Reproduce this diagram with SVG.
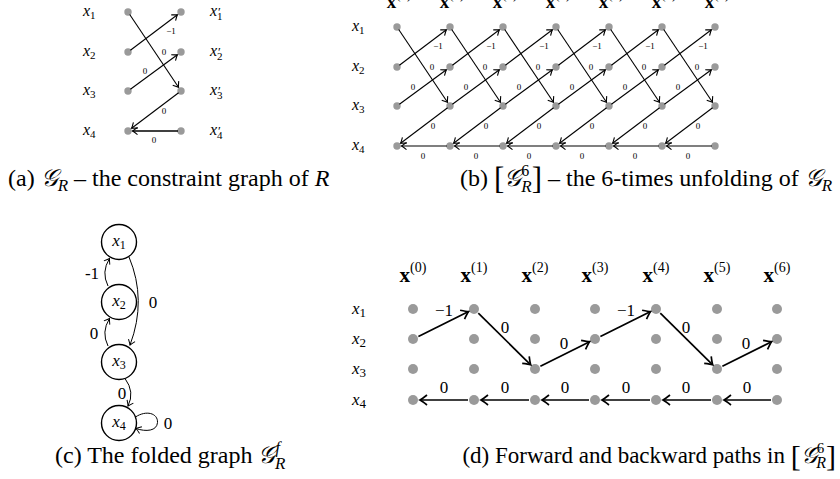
<svg xmlns="http://www.w3.org/2000/svg" width="840" height="479" viewBox="0 0 840 479">
<style>
text{font-family:"Liberation Serif","DejaVu Serif",serif;fill:#000}
.it{font-style:italic}
.up{font-style:normal}
.dot{fill:#9a9a9a}
.dd{fill:#9a9a9a}
.e{stroke:#000;stroke-width:1.1;fill:none;marker-end:url(#ah)}
.ed{stroke:#000;stroke-width:1.7;fill:none;marker-end:url(#ahd)}
.ec{stroke:#000;stroke-width:1;fill:none;marker-end:url(#ahc)}
.s{font-size:9px;text-anchor:middle}
.m{font-size:17px;text-anchor:middle}
.rl{font-size:16px;font-style:italic}
.rd{font-size:17px;font-style:italic}
.hd{text-anchor:middle}
.cap{font-size:24px}
.nc{fill:#fff;stroke:#000;stroke-width:1.4}
</style>
<defs>
<marker id="ah" viewBox="-8 -6 10 12" markerWidth="10" markerHeight="12" refX="0" refY="0" orient="auto" markerUnits="userSpaceOnUse"><path d="M-5,-3.6 Q-1.5,-0.8 0,0 Q-1.5,0.8 -5,3.6" fill="none" stroke="#000" stroke-width="1.1"/></marker>
<marker id="ahd" viewBox="-10 -7 12 14" markerWidth="12" markerHeight="14" refX="0" refY="0" orient="auto" markerUnits="userSpaceOnUse"><path d="M-7,-5 Q-2,-1 0,0 Q-2,1 -7,5" fill="none" stroke="#000" stroke-width="1.7"/></marker>
<marker id="ahc" viewBox="-8 -6 10 12" markerWidth="10" markerHeight="12" refX="0" refY="0" orient="auto" markerUnits="userSpaceOnUse"><path d="M-5,-3.5 Q-1.5,-0.8 0,0 Q-1.5,0.8 -5,3.5" fill="none" stroke="#000" stroke-width="1"/></marker>
</defs>

<!-- Panel (a) -->
<g id="panel-a">
<g id="a-labels" class="rl">
<text x="83" y="16">x<tspan class="up" font-size="11" dy="3">1</tspan></text>
<text x="83" y="56">x<tspan class="up" font-size="11" dy="3">2</tspan></text>
<text x="83" y="95">x<tspan class="up" font-size="11" dy="3">3</tspan></text>
<text x="83" y="135">x<tspan class="up" font-size="11" dy="3">4</tspan></text>
<text x="210" y="16">x<tspan class="up" font-size="13" dx="1">′</tspan><tspan class="up" font-size="11" dx="-4" dy="4">1</tspan></text>
<text x="210" y="56">x<tspan class="up" font-size="13" dx="1">′</tspan><tspan class="up" font-size="11" dx="-4" dy="4">2</tspan></text>
<text x="210" y="95">x<tspan class="up" font-size="13" dx="1">′</tspan><tspan class="up" font-size="11" dx="-4" dy="4">3</tspan></text>
<text x="210" y="135">x<tspan class="up" font-size="13" dx="1">′</tspan><tspan class="up" font-size="11" dx="-4" dy="4">4</tspan></text>
</g>
<g id="a-x1"><circle class="dot" cx="128" cy="12" r="3.7"/></g>
<g id="a-x2"><circle class="dot" cx="128" cy="52" r="3.7"/></g>
<g id="a-x3"><circle class="dot" cx="128" cy="91" r="3.7"/></g>
<g id="a-x4"><circle class="dot" cx="128" cy="131" r="3.7"/></g>
<g id="a-x1p"><circle class="dot" cx="181" cy="12" r="3.7"/></g>
<g id="a-x2p"><circle class="dot" cx="181" cy="52" r="3.7"/></g>
<g id="a-x3p"><circle class="dot" cx="181" cy="91" r="3.7"/></g>
<g id="a-x4p"><circle class="dot" cx="181" cy="131" r="3.7"/></g>
<g id="a-connectors">
<path class="e" d="M129.7,14.5 L178.5,87.3"/>
<path class="e" d="M130.4,50.2 L177.4,14.7"/>
<path class="e" d="M130.4,89.2 L177.4,54.7"/>
<path class="e" d="M178.6,92.8 L131.6,128.3"/>
<path class="e" d="M178,131 L132.5,131" style="stroke-width:1.4"/>
<text class="s" x="171" y="34">−1</text>
<text class="s" x="164" y="55">0</text>
<text class="s" x="145" y="74">0</text>
<text class="s" x="164" y="114">0</text>
<text class="s" x="154" y="143">0</text>
</g>
</g>

<!-- Panel (b) -->
<g id="panel-b">
<g id="b-headers" font-size="19">
<text class="hd" x="399" y="8"><tspan font-weight="bold">x</tspan><tspan font-size="13" dy="-9">(0)</tspan></text>
<text class="hd" x="452" y="8"><tspan font-weight="bold">x</tspan><tspan font-size="13" dy="-9">(1)</tspan></text>
<text class="hd" x="505" y="8"><tspan font-weight="bold">x</tspan><tspan font-size="13" dy="-9">(2)</tspan></text>
<text class="hd" x="558" y="8"><tspan font-weight="bold">x</tspan><tspan font-size="13" dy="-9">(3)</tspan></text>
<text class="hd" x="611" y="8"><tspan font-weight="bold">x</tspan><tspan font-size="13" dy="-9">(4)</tspan></text>
<text class="hd" x="664" y="8"><tspan font-weight="bold">x</tspan><tspan font-size="13" dy="-9">(5)</tspan></text>
<text class="hd" x="717" y="8"><tspan font-weight="bold">x</tspan><tspan font-size="13" dy="-9">(6)</tspan></text>
</g>
<g id="b-labels" class="rl">
<text x="352" y="31">x<tspan class="up" font-size="11" dy="3">1</tspan></text>
<text x="352" y="71">x<tspan class="up" font-size="11" dy="3">2</tspan></text>
<text x="352" y="110">x<tspan class="up" font-size="11" dy="3">3</tspan></text>
<text x="352" y="150">x<tspan class="up" font-size="11" dy="3">4</tspan></text>
</g>
<g id="b-x1-0"><circle class="dot" cx="397" cy="27" r="3.7"/></g>
<g id="b-x2-0"><circle class="dot" cx="397" cy="67" r="3.7"/></g>
<g id="b-x3-0"><circle class="dot" cx="397" cy="106" r="3.7"/></g>
<g id="b-x4-0"><circle class="dot" cx="397" cy="146" r="3.7"/></g>
<g id="b-x1-1"><circle class="dot" cx="450" cy="27" r="3.7"/></g>
<g id="b-x2-1"><circle class="dot" cx="450" cy="67" r="3.7"/></g>
<g id="b-x3-1"><circle class="dot" cx="450" cy="106" r="3.7"/></g>
<g id="b-x4-1"><circle class="dot" cx="450" cy="146" r="3.7"/></g>
<g id="b-x1-2"><circle class="dot" cx="503" cy="27" r="3.7"/></g>
<g id="b-x2-2"><circle class="dot" cx="503" cy="67" r="3.7"/></g>
<g id="b-x3-2"><circle class="dot" cx="503" cy="106" r="3.7"/></g>
<g id="b-x4-2"><circle class="dot" cx="503" cy="146" r="3.7"/></g>
<g id="b-x1-3"><circle class="dot" cx="556" cy="27" r="3.7"/></g>
<g id="b-x2-3"><circle class="dot" cx="556" cy="67" r="3.7"/></g>
<g id="b-x3-3"><circle class="dot" cx="556" cy="106" r="3.7"/></g>
<g id="b-x4-3"><circle class="dot" cx="556" cy="146" r="3.7"/></g>
<g id="b-x1-4"><circle class="dot" cx="609" cy="27" r="3.7"/></g>
<g id="b-x2-4"><circle class="dot" cx="609" cy="67" r="3.7"/></g>
<g id="b-x3-4"><circle class="dot" cx="609" cy="106" r="3.7"/></g>
<g id="b-x4-4"><circle class="dot" cx="609" cy="146" r="3.7"/></g>
<g id="b-x1-5"><circle class="dot" cx="662" cy="27" r="3.7"/></g>
<g id="b-x2-5"><circle class="dot" cx="662" cy="67" r="3.7"/></g>
<g id="b-x3-5"><circle class="dot" cx="662" cy="106" r="3.7"/></g>
<g id="b-x4-5"><circle class="dot" cx="662" cy="146" r="3.7"/></g>
<g id="b-x1-6"><circle class="dot" cx="715" cy="27" r="3.7"/></g>
<g id="b-x2-6"><circle class="dot" cx="715" cy="67" r="3.7"/></g>
<g id="b-x3-6"><circle class="dot" cx="715" cy="106" r="3.7"/></g>
<g id="b-x4-6"><circle class="dot" cx="715" cy="146" r="3.7"/></g>
<g id="b-connectors">
<g id="b-step0">
<path class="e" d="M398.7,29.5 L447.5,102.3"/>
<path class="e" d="M399.4,65.2 L446.4,29.7"/>
<path class="e" d="M399.4,104.2 L446.4,69.7"/>
<path class="e" d="M447.6,107.8 L400.6,143.3"/>
<path class="e" d="M447,146 L401.5,146"/>
<text class="s" x="438" y="49">−1</text>
<text class="s" x="432" y="70">0</text>
<text class="s" x="413" y="90">0</text>
<text class="s" x="433" y="129">0</text>
<text class="s" x="423" y="159">0</text>
</g>
<use href="#b-step0" transform="translate(53,0)"/>
<use href="#b-step0" transform="translate(106,0)"/>
<use href="#b-step0" transform="translate(159,0)"/>
<use href="#b-step0" transform="translate(212,0)"/>
<use href="#b-step0" transform="translate(265,0)"/>
</g>
</g>

<!-- Panel (c) -->
<g id="panel-c">
<g id="c-connectors">
<path class="ec" d="M108,286 Q101,272 109.5,258.5"/>
<path class="ec" d="M108,346 Q101,332 109.5,318.5"/>
<path class="ec" d="M129,257 Q147,300 130,345"/>
<path class="ec" d="M125,378.5 Q135,392 128,406"/>
<path class="ec" d="M135.5,417 C146,410 158,413 157.5,422.5 C157,431 146,432 136,428.5"/>
<text font-size="17" x="92" y="279" text-anchor="middle">-1</text>
<text font-size="17" x="94" y="339" text-anchor="middle">0</text>
<text font-size="17" x="153" y="308" text-anchor="middle">0</text>
<text font-size="17" x="122" y="399" text-anchor="middle">0</text>
<text font-size="17" x="168" y="429" text-anchor="middle">0</text>
</g>
<g id="c-x1"><circle class="nc" cx="119" cy="242" r="17.5"/><text class="it" font-size="17" x="119" y="246" text-anchor="middle">x<tspan class="up" font-size="12" dy="3">1</tspan></text></g>
<g id="c-x2"><circle class="nc" cx="119" cy="302" r="17.5"/><text class="it" font-size="17" x="119" y="306" text-anchor="middle">x<tspan class="up" font-size="12" dy="3">2</tspan></text></g>
<g id="c-x3"><circle class="nc" cx="119" cy="362" r="17.5"/><text class="it" font-size="17" x="119" y="366" text-anchor="middle">x<tspan class="up" font-size="12" dy="3">3</tspan></text></g>
<g id="c-x4"><circle class="nc" cx="119" cy="423" r="17.5"/><text class="it" font-size="17" x="119" y="427" text-anchor="middle">x<tspan class="up" font-size="12" dy="3">4</tspan></text></g>
</g>

<!-- Panel (d) -->
<g id="panel-d">
<g id="d-headers" font-size="21">
<text class="hd" x="413" y="282"><tspan font-weight="bold">x</tspan><tspan font-size="14" dy="-10">(0)</tspan></text>
<text class="hd" x="474" y="282"><tspan font-weight="bold">x</tspan><tspan font-size="14" dy="-10">(1)</tspan></text>
<text class="hd" x="535" y="282"><tspan font-weight="bold">x</tspan><tspan font-size="14" dy="-10">(2)</tspan></text>
<text class="hd" x="595" y="282"><tspan font-weight="bold">x</tspan><tspan font-size="14" dy="-10">(3)</tspan></text>
<text class="hd" x="656" y="282"><tspan font-weight="bold">x</tspan><tspan font-size="14" dy="-10">(4)</tspan></text>
<text class="hd" x="717" y="282"><tspan font-weight="bold">x</tspan><tspan font-size="14" dy="-10">(5)</tspan></text>
<text class="hd" x="777" y="282"><tspan font-weight="bold">x</tspan><tspan font-size="14" dy="-10">(6)</tspan></text>
</g>
<g id="d-labels" class="rd">
<text x="352" y="314">x<tspan class="up" font-size="13" dy="3">1</tspan></text>
<text x="352" y="344">x<tspan class="up" font-size="13" dy="3">2</tspan></text>
<text x="352" y="374">x<tspan class="up" font-size="13" dy="3">3</tspan></text>
<text x="352" y="405">x<tspan class="up" font-size="13" dy="3">4</tspan></text>
</g>
<g id="d-x1-0"><circle class="dd" cx="413" cy="309" r="5"/></g>
<g id="d-x2-0"><circle class="dd" cx="413" cy="339" r="5"/></g>
<g id="d-x3-0"><circle class="dd" cx="413" cy="369" r="5"/></g>
<g id="d-x4-0"><circle class="dd" cx="413" cy="400" r="5"/></g>
<g id="d-x1-1"><circle class="dd" cx="474" cy="309" r="5"/></g>
<g id="d-x2-1"><circle class="dd" cx="474" cy="339" r="5"/></g>
<g id="d-x3-1"><circle class="dd" cx="474" cy="369" r="5"/></g>
<g id="d-x4-1"><circle class="dd" cx="474" cy="400" r="5"/></g>
<g id="d-x1-2"><circle class="dd" cx="535" cy="309" r="5"/></g>
<g id="d-x2-2"><circle class="dd" cx="535" cy="339" r="5"/></g>
<g id="d-x3-2"><circle class="dd" cx="535" cy="369" r="5"/></g>
<g id="d-x4-2"><circle class="dd" cx="535" cy="400" r="5"/></g>
<g id="d-x1-3"><circle class="dd" cx="595" cy="309" r="5"/></g>
<g id="d-x2-3"><circle class="dd" cx="595" cy="339" r="5"/></g>
<g id="d-x3-3"><circle class="dd" cx="595" cy="369" r="5"/></g>
<g id="d-x4-3"><circle class="dd" cx="595" cy="400" r="5"/></g>
<g id="d-x1-4"><circle class="dd" cx="656" cy="309" r="5"/></g>
<g id="d-x2-4"><circle class="dd" cx="656" cy="339" r="5"/></g>
<g id="d-x3-4"><circle class="dd" cx="656" cy="369" r="5"/></g>
<g id="d-x4-4"><circle class="dd" cx="656" cy="400" r="5"/></g>
<g id="d-x1-5"><circle class="dd" cx="717" cy="309" r="5"/></g>
<g id="d-x2-5"><circle class="dd" cx="717" cy="339" r="5"/></g>
<g id="d-x3-5"><circle class="dd" cx="717" cy="369" r="5"/></g>
<g id="d-x4-5"><circle class="dd" cx="717" cy="400" r="5"/></g>
<g id="d-x1-6"><circle class="dd" cx="777" cy="309" r="5"/></g>
<g id="d-x2-6"><circle class="dd" cx="777" cy="339" r="5"/></g>
<g id="d-x3-6"><circle class="dd" cx="777" cy="369" r="5"/></g>
<g id="d-x4-6"><circle class="dd" cx="777" cy="400" r="5"/></g>
<g id="d-connectors">
<path class="ed" d="M418.4,336.4 L468.6,311.6"/>
<path class="ed" d="M478.3,313.2 L530.7,364.8"/>
<path class="ed" d="M540.4,366.3 L589.6,341.7"/>
<path class="ed" d="M600.4,336.4 L650.6,311.6"/>
<path class="ed" d="M660.3,313.2 L712.7,364.8"/>
<path class="ed" d="M722.4,366.3 L771.6,341.7"/>
<path class="ed" d="M468,400 L420,400"/>
<path class="ed" d="M529,400 L481,400"/>
<path class="ed" d="M589,400 L542,400"/>
<path class="ed" d="M650,400 L602,400"/>
<path class="ed" d="M711,400 L663,400"/>
<path class="ed" d="M771,400 L724,400"/>
<text class="m" x="444" y="316">−1</text>
<text class="m" x="626" y="316">−1</text>
<text class="m" x="505" y="333">0</text>
<text class="m" x="686" y="333">0</text>
<text class="m" x="564" y="349">0</text>
<text class="m" x="746" y="349">0</text>
<text class="m" x="444" y="393">0</text>
<text class="m" x="505" y="393">0</text>
<text class="m" x="565" y="393">0</text>
<text class="m" x="626" y="393">0</text>
<text class="m" x="686" y="393">0</text>
<text class="m" x="747" y="393">0</text>
</g>
</g>

<!-- Captions -->
<g id="captions">
<text class="cap" x="8" y="186">(a) <tspan class="it">𝒢</tspan><tspan class="it" font-size="17" dy="5">R</tspan><tspan dy="-5"> – the constraint graph of </tspan><tspan class="it">R</tspan></text>
<text class="cap" x="460" y="186">(b) <tspan font-size="31" dy="3">[</tspan><tspan class="it" dy="-3">𝒢</tspan><tspan font-size="16" dy="-10">6</tspan><tspan class="it" font-size="17" dx="-8" dy="16">R</tspan><tspan font-size="31" dy="-3">]</tspan><tspan dy="-3"> – the 6-times unfolding of </tspan><tspan class="it">𝒢</tspan><tspan class="it" font-size="17" dy="5">R</tspan></text>
<text class="cap" x="55" y="463">(c) The folded graph <tspan class="it">𝒢</tspan><tspan class="it" font-size="16" dy="-10">f</tspan><tspan class="it" font-size="17" dx="-5" dy="16">R</tspan></text>
<text class="cap" x="836" y="463" text-anchor="end" style="font-size:23px">(d) Forward and backward paths in <tspan font-size="30" dy="3">[</tspan><tspan class="it" dy="-3">𝒢</tspan><tspan font-size="15" dy="-10">6</tspan><tspan class="it" font-size="16" dx="-8" dy="15">R</tspan><tspan font-size="30" dy="-2">]</tspan></text>
</g>
</svg>
